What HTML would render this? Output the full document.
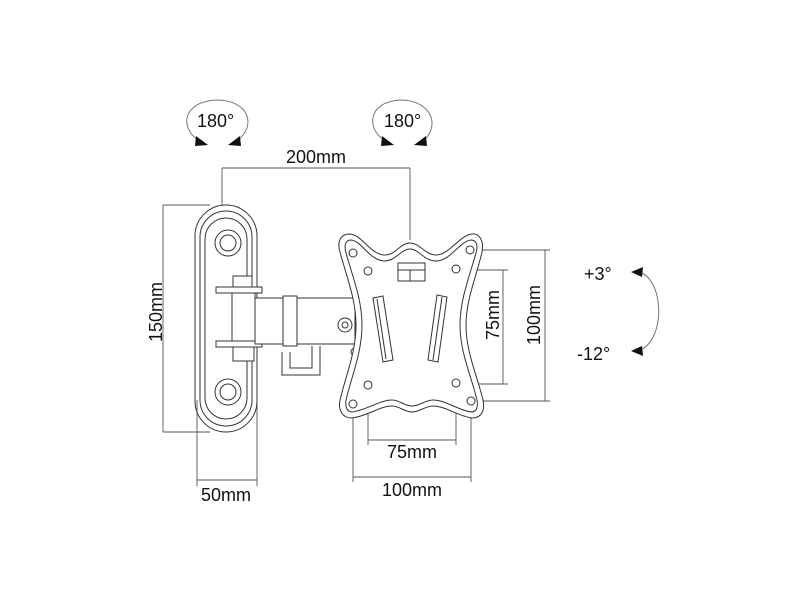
<!DOCTYPE html>
<html><head><meta charset="utf-8"><style>
html,body{margin:0;padding:0;background:#fff;width:800px;height:600px;overflow:hidden}
svg{display:block}
text{font-family:"Liberation Sans",sans-serif;fill:#111}
</style></head><body>
<svg width="800" height="600" viewBox="0 0 800 600" xmlns="http://www.w3.org/2000/svg">
<defs>
<marker id="ah" markerWidth="10" markerHeight="8" refX="9" refY="4" orient="auto" markerUnits="userSpaceOnUse">
<path d="M0,0 L10,4 L0,8 z" fill="#111"/></marker>
</defs>
<g fill="none" stroke="#555" stroke-width="0.9">
<path d="M222,168 H410 M222,168 V205 M410,168 V240"/>
<path d="M163,205 V432 M163,205 H210 M163,432 H210"/>
<path d="M197,400 V486 M257,400 V486 M197,480 H257"/>
<path d="M503,270 V384 M458,270 H508 M458,384 H508"/>
<path d="M545,250 V401 M472,250 H550 M472,401 H550"/>
<path d="M368,388 V445 M456,388 V445 M368,440 H456"/>
<path d="M353,406 V482 M471,404 V482 M353,477 H471"/>
</g>
<g fill="none" stroke="#333" stroke-width="1">
<rect x="195" y="205" width="62" height="227" rx="31" ry="31"/>
<rect x="200" y="211" width="52" height="215" rx="26" ry="26"/>
<rect x="205" y="218" width="42" height="201" rx="21" ry="21"/>
<circle cx="228" cy="243" r="13"/><circle cx="228" cy="243" r="8"/>
<circle cx="228" cy="392" r="13"/><circle cx="228" cy="392" r="8"/>
<rect x="233" y="276" width="19" height="12" fill="#fff"/>
<rect x="216" y="287" width="46" height="6" fill="#fff"/>
<rect x="216" y="341" width="46" height="6" fill="#fff"/>
<rect x="232" y="293" width="23" height="48" fill="#fff"/>
<rect x="233" y="347" width="21" height="14" fill="#fff"/>
<rect x="255" y="298" width="100" height="46" fill="#fff"/>
<rect x="283" y="296" width="14" height="50" fill="#fff"/>
<path d="M282,352 V375 H320 V346 M290,352 V368 H312 V346"/>
<circle cx="345" cy="325" r="7" fill="#fff"/><circle cx="345" cy="325" r="3"/>
<circle cx="355" cy="352" r="4" fill="#fff"/>
<path fill="#fff" d="M410,243 C400,243 395,256 384,255 C370,254 362,235 350,234 C340,234 337,242 340,252 C347,278 356,300 356,325 C356,352 346,375 340,400 C338,410 342,418 352,418 C368,416 380,406 392,406 C400,406 404,412 412,412 C420,412 425,406 433,406 C445,406 458,416 472,418 C482,418 485,410 483,400 C477,375 466,352 466,325 C466,300 476,278 482,252 C484,242 480,233 472,234 C460,235 450,254 437,255 C426,256 420,243 410,243 Z"/>
<path d="M410,249 C401,249 396,261 384,261 C369,260 362,241 351,240 C345,240 344,246 346,253 C353,278 362,300 362,325 C362,352 352,375 346,400 C345,407 347,412 352,412 C367,410 380,400 392,400 C400,400 404,406 412,406 C420,406 425,400 433,400 C445,400 458,410 471,412 C477,412 478,407 477,400 C471,375 460,352 460,325 C460,300 469,278 476,253 C478,246 477,240 471,240 C460,241 451,260 437,261 C425,262 419,249 410,249 Z"/>
<rect x="398" y="263" width="27" height="18"/><path d="M398,270 H425 M410,270 V281"/>
<path d="M373,298 L383,296 L393,360 L383,362 Z M377,299 L386,359"/>
<path d="M437,295 L447,297 L438,362 L428,360 Z M442,297 L433,360"/>
<circle cx="353" cy="253" r="4"/><circle cx="368" cy="271" r="4"/>
<circle cx="470" cy="250" r="4"/><circle cx="456" cy="269" r="4"/>
<circle cx="353" cy="404" r="4"/><circle cx="368" cy="385" r="4"/>
<circle cx="456" cy="383" r="4"/><circle cx="471" cy="401" r="4"/>
</g>
<!-- rotation arrows -->
<g fill="none" stroke="#777" stroke-width="1">
<path d="M198,140 C180,128 182,102 216,100 C250,100 256,126 238,140"/>
<path d="M384,140 C366,128 368,102 400,100 C432,100 440,126 424,140"/>
<path d="M640,272 C665,282 665,340 640,350"/>
</g>
<g fill="#111">
<path d="M196,136 L208,145 L195,146 Z"/>
<path d="M240,136 L228,145 L241,146 Z"/>
<path d="M382,136 L394,145 L381,146 Z"/>
<path d="M426,136 L414,145 L427,146 Z"/>
<path d="M631,272 L643,267 L642,277 Z"/>
<path d="M631,351 L642,346 L643,356 Z"/>
</g>
<g font-size="18">
<text x="197" y="127">180°</text>
<text x="384" y="127">180°</text>
<text x="316" y="163" text-anchor="middle">200mm</text>
<text x="156" y="318" text-anchor="middle" transform="rotate(-90 156 312)">150mm</text>
<text x="226" y="501" text-anchor="middle">50mm</text>
<text x="499" y="327" text-anchor="middle" transform="rotate(-90 493 321)">75mm</text>
<text x="540" y="327" text-anchor="middle" transform="rotate(-90 534 321)">100mm</text>
<text x="412" y="458" text-anchor="middle">75mm</text>
<text x="412" y="496" text-anchor="middle">100mm</text>
<text x="584" y="280">+3°</text>
<text x="577" y="360">-12°</text>
</g>
</svg>
</body></html>
